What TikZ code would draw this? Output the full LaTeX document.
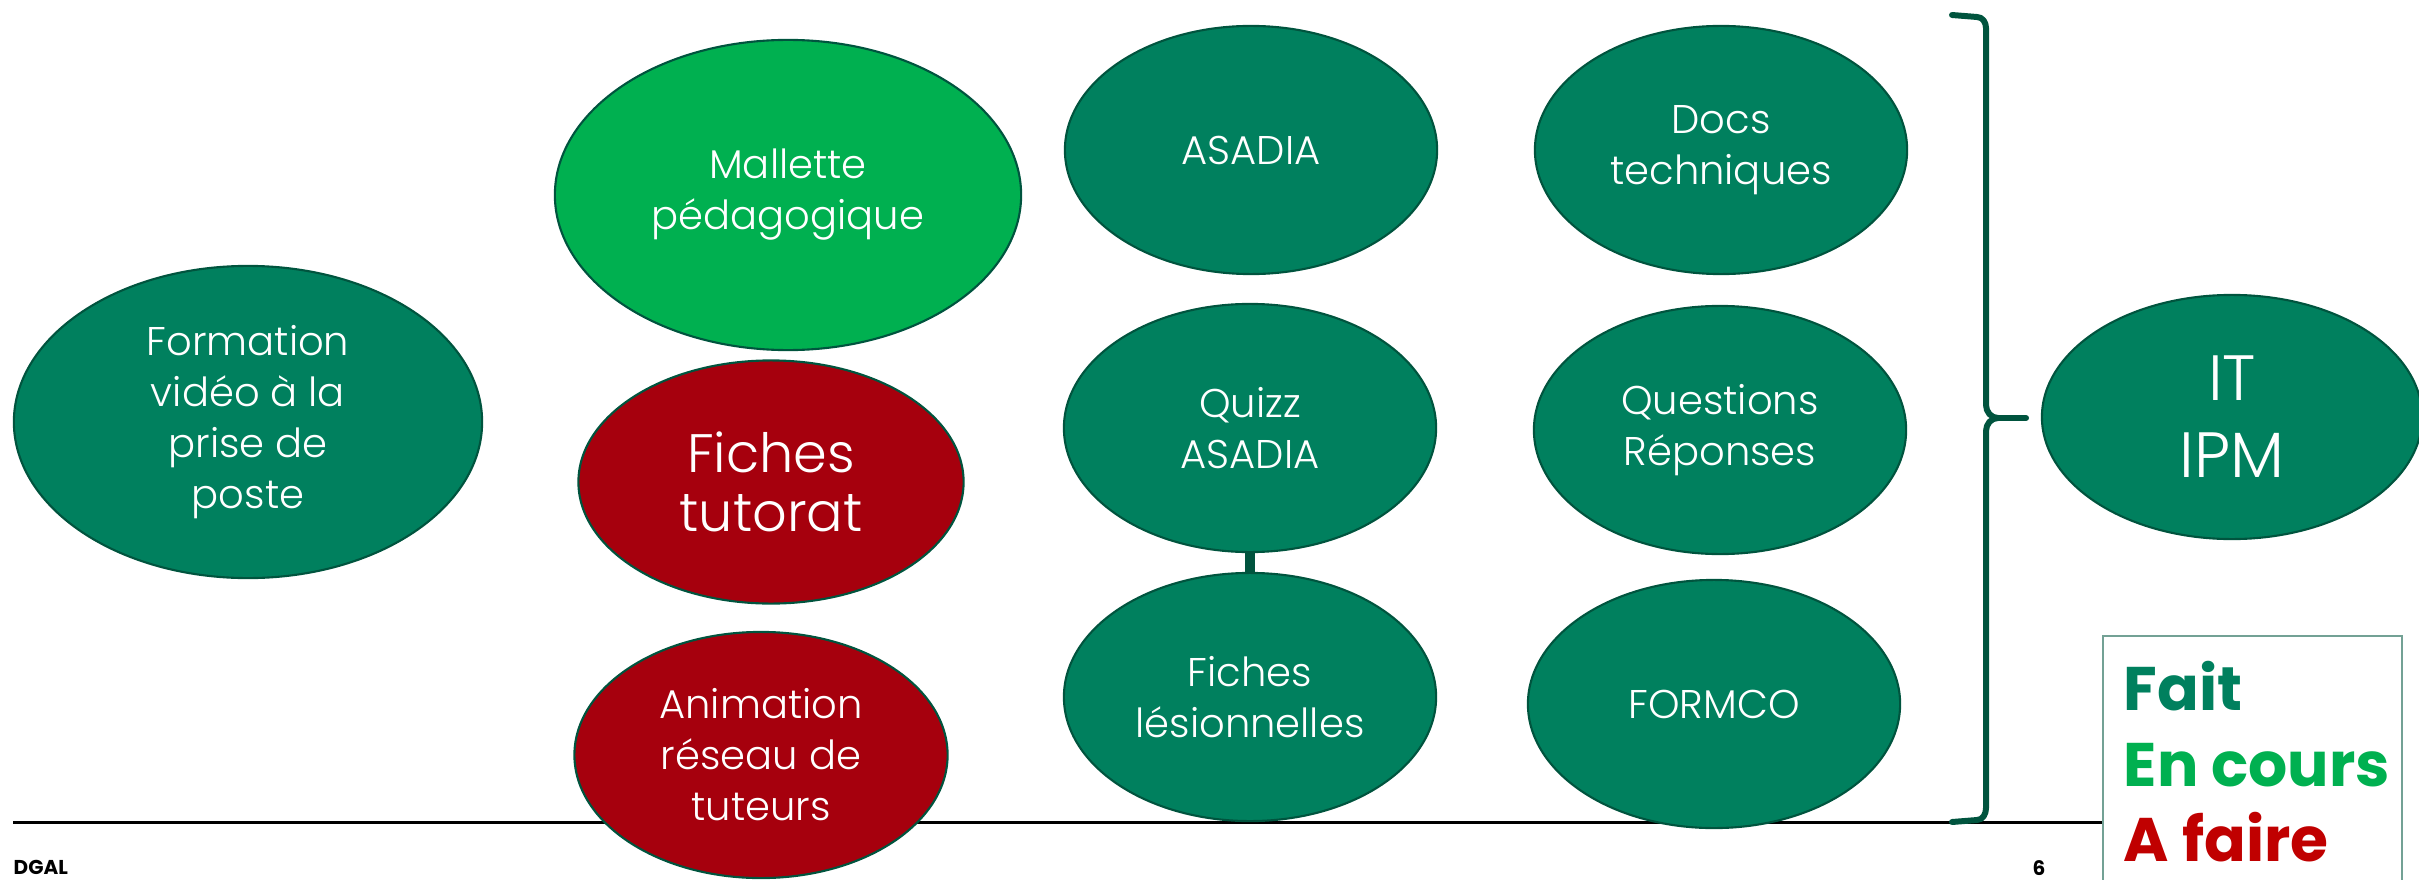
\documentclass[tikz,border=0pt]{standalone}
\usepackage{fontspec}
\setmainfont{Poppins Light}[BoldFont={Poppins Bold}]
\usepackage{tikz}
\usetikzlibrary{shapes.geometric}

\definecolor{fait}{RGB}{0,128,94}
\definecolor{encours}{RGB}{0,176,80}
\definecolor{afaire}{RGB}{166,0,13}
\definecolor{afairetxt}{RGB}{192,0,0}
\definecolor{bord}{RGB}{0,84,62}

\tikzset{
  bulle/.style={ellipse, draw=bord, line width=0.6pt, inner sep=0pt, text=white,
    align=center, font=\fontsize{11.4}{14.5}\selectfont,
    minimum width=3.72cm, minimum height=2.48cm},
  vert/.style={bulle, fill=fait},
  clair/.style={bulle, fill=encours},
  rouge/.style={bulle, fill=afaire},
  lien/.style={draw=bord, line width=2.9pt},
  accolade/.style={draw=bord, line width=1.7pt, line cap=round, line join=round},
  legende/.style={anchor=base west, inner sep=0pt, font=\bfseries\fontsize{17.5}{21}\selectfont},
  pied/.style={anchor=north west, inner sep=0pt, font=\bfseries\fontsize{5.7}{7}\selectfont}
}

\begin{document}
\begin{tikzpicture}[x=0.01cm, y=-0.01cm]
\useasboundingbox (0,0) rectangle (2419,879);

\coordinate (L1) at (13,822);
\coordinate (L2) at (2103,822);
\draw[line width=0.85pt] (L1) -- (L2);

\node[vert, minimum width=4.68cm, minimum height=3.12cm] (video) at (248,422) {Formation\\vidéo à la\\prise de\\poste};

\node[clair, minimum width=4.66cm, minimum height=3.10cm] (mallette) at (788,195) {Mallette\\pédagogique};
\node[rouge, minimum width=3.85cm, minimum height=2.43cm, font=\fontsize{15.4}{16.8}\selectfont] (tutorat) at (771,482) {Fiches\\tutorat};
\node[rouge, minimum width=3.73cm, minimum height=2.46cm] (animation) at (761,755) {Animation\\réseau de\\tuteurs};

\node[vert] (asadia) at (1251,150) {ASADIA};
\node[vert] (quizz) at (1250,428) {Quizz\\ASADIA};
\node[vert] (lesion) at (1250,697) {Fiches\\lésionnelles};
\draw[lien] (quizz) -- (lesion);

\node[vert] (docs) at (1721,150) {Docs\\techniques};
\node[vert] (questions) at (1720,430) {Questions\\Réponses};
\node[vert] (formco) at (1714,704) {FORMCO};

\coordinate (A) at (1952,15);
\coordinate (B) at (1986,28);
\coordinate (C) at (1986,405);
\coordinate (D) at (2026,418);
\coordinate (E) at (1986,431);
\coordinate (F) at (1986,808);
\coordinate (G) at (1952,822);
\draw[accolade] (A) -- (1977,17) to[out=0,in=90] (B) -- (C)
  to[out=-90,in=180] (1998,418) -- (D);
\draw[accolade] (1998,418) to[out=180,in=90] (E) -- (F)
  to[out=-90,in=0] (1977,820) -- (G);

\node[vert, minimum width=3.80cm, minimum height=2.44cm, font=\fontsize{18.2}{21.9}\selectfont] (it) at (2232,417) {IT\\IPM};

\draw[draw=bord!55, line width=0.6pt] (2103,636) rectangle (2402,900);
\node[legende, text=fait] (lfait) at (2123,710) {Fait};
\node[legende, text=encours] (lencours) at (2123,786) {En cours};
\node[legende, text=afairetxt] (lafaire) at (2123,861) {A faire};

\node[pied] (dgal) at (13,860) {DGAL};
\node[pied] (page) at (2032,860) {6};
\end{tikzpicture}
\end{document}
